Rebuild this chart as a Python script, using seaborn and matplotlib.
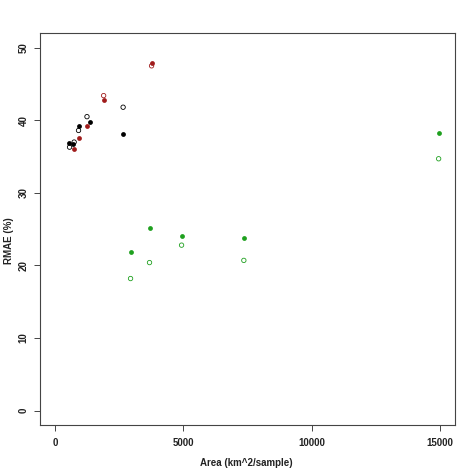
import matplotlib
matplotlib.use("Agg")
import pandas as pd
import seaborn as sns
import matplotlib.pyplot as plt

# black series
black_fill_x = [520, 680, 910, 1340, 2650]
black_fill_y = [36.9, 36.7, 39.2, 39.8, 38.1]
black_open_x = [560, 740, 910, 1240, 2650]
black_open_y = [36.3, 37.0, 38.6, 40.5, 41.8]

# red series
red_fill_x = [740, 940, 1250, 1890, 3760]
red_fill_y = [36.0, 37.6, 39.2, 42.8, 47.9]
red_open_x = [1890, 3760]
red_open_y = [43.4, 47.5]

# green series
green_x = [2940, 3680, 4930, 7360, 14960]
green_fill_y = [21.8, 25.2, 24.1, 23.8, 38.2]
green_open_y = [18.2, 20.4, 22.8, 20.7, 34.7]

x_ticks = [0, 5000, 10000, 15000]
y_ticks = [0, 10, 20, 30, 40, 50]

sns.set_style("ticks")
plt.rcParams["font.family"] = ["Liberation Sans", "DejaVu Sans"]
plt.rcParams["font.weight"] = "bold"

fig = plt.figure(figsize=(4.74, 4.74), dpi=100)
ax = fig.add_axes([0.084, 0.103, 0.876, 0.827])

black = "#000000"
red = "#a01c1c"
green = "#1fa01f"

series = [
    (black_fill_x, black_fill_y, black, True),
    (black_open_x, black_open_y, black, False),
    (red_open_x, red_open_y, red, False),
    (red_fill_x, red_fill_y, red, True),
    (green_x, green_fill_y, green, True),
    (green_x, green_open_y, green, False),
]
for xs, ys, c, filled in series:
    df = pd.DataFrame({"x": xs, "y": ys})
    if filled:
        sns.scatterplot(data=df, x="x", y="y", ax=ax, color=c, s=12,
                        linewidth=0, legend=False)
    else:
        sns.scatterplot(data=df, x="x", y="y", ax=ax, s=10,
                        facecolor="none", edgecolor=c, linewidth=0.6,
                        legend=False)

ax.set_xlim(-600, 15600)
ax.set_ylim(-2, 52)
ax.set_xticks(x_ticks)
ax.set_yticks(y_ticks)
ax.set_xticklabels([str(t) for t in x_ticks], fontsize=7, fontweight="bold", color="#222222")
ax.set_yticklabels([str(t) for t in y_ticks], fontsize=7, fontweight="bold",
                   rotation=90, va="center", color="#222222")
ax.tick_params(length=4, width=0.7, color="#444444", pad=5)
ax.tick_params(axis="y", pad=4)
for sp in ax.spines.values():
    sp.set_visible(True)
    sp.set_color("#444444")
    sp.set_linewidth(0.8)

ax.set_xlabel("Area (km^2/sample)", fontsize=7, fontweight="bold", color="#222222")
ax.set_ylabel("RMAE (%)", fontsize=7, fontweight="bold", color="#222222")
ax.xaxis.set_label_coords(0.497, -0.085)
ax.yaxis.set_label_coords(-0.062, 0.47)

fig.savefig("out.png", dpi=100)
